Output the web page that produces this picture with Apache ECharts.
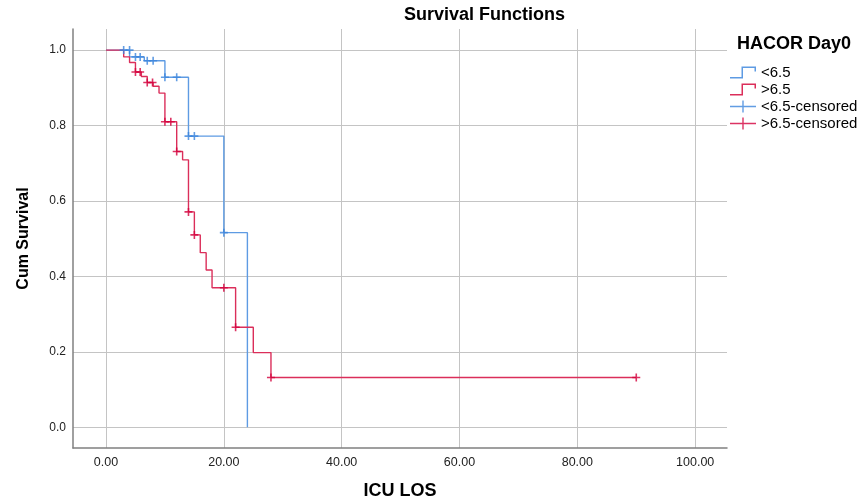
<!DOCTYPE html>
<html>
<head>
<meta charset="utf-8">
<script src="https://cdn.jsdelivr.net/npm/echarts@6/dist/echarts.min.js"></script>
<style>
html,body{margin:0;padding:0;background:#fff;}
#c{width:858px;height:503px;}
</style>
</head>
<body>
<div id="c"></div>
<script>
// ---- data ----
const xTicks = [0, 20, 40, 60, 80, 100];
const yTicks = [0, 0.2, 0.4, 0.6, 0.8, 1.0];

// group <6.5 (Kaplan-Meier steps)
const lowTimes = [0, 4, 6.5, 10, 14, 20, 24];
const lowSurv  = [1.0, 0.982, 0.972, 0.928, 0.772, 0.516, 0];
const lowCensTimes = [3, 4, 5, 5.8, 7, 8, 10, 12, 14, 15, 20];
const lowCensSurv  = [1.0, 1.0, 0.982, 0.982, 0.972, 0.972, 0.928, 0.928, 0.772, 0.772, 0.516];

// group >6.5
const highTimes = [0, 3, 4, 5, 6, 7, 8, 9, 10, 12, 13, 14, 15, 16, 17, 18, 22, 25, 28, 90];
const highSurv  = [1.0, 0.982, 0.967, 0.942, 0.930, 0.914, 0.904, 0.886, 0.810, 0.731, 0.709, 0.571, 0.510, 0.463, 0.417, 0.370, 0.265, 0.198, 0.132, 0.132];
const highCensTimes = [5, 5.8, 7, 7.9, 10, 11, 12, 14, 15, 20, 22, 28, 90];
const highCensSurv  = [0.942, 0.942, 0.914, 0.914, 0.810, 0.810, 0.731, 0.571, 0.510, 0.370, 0.265, 0.132, 0.132];

const seriesNames = ['<6.5', '>6.5', '<6.5-censored', '>6.5-censored'];

// ---- styling ----
const blueLine = '#5e9be3';
const redLine = '#db2e5a';
const blueMark = '#3b84dc';
const redMark = '#d3003c';
const stepIcon = 'path://M0,10.5H11.5V0H26V5H24.5V1.5H13V12H0Z';
const crossIcon = 'path://M0,5.3H12.3V0H13.7V5.3H26V6.7H13.7V12H12.3V6.7H0Z';
const plusSymbol = 'path://M3.2,0H4.8V3.2H8V4.8H4.8V8H3.2V4.8H0V3.2H3.2Z';
const sans = 'Liberation Sans, Arial, sans-serif';

const zip = (a, b) => a.map((v, i) => [v, b[i]]);

const chart = echarts.init(document.getElementById('c'), null, {renderer: 'canvas'});
chart.setOption({
  animation: false,
  backgroundColor: '#ffffff',
  title: [
    {text: 'Survival Functions', left: 399, top: 1,
     textStyle: {fontFamily: sans, fontSize: 18, fontWeight: 'bold', color: '#000'}},
    {text: 'HACOR Day0', left: 732, top: 30,
     textStyle: {fontFamily: sans, fontSize: 18, fontWeight: 'bold', color: '#000'}}
  ],
  legend: {
    orient: 'vertical', left: 725, top: 60,
    itemWidth: 26, itemHeight: 12, itemGap: 2,
    selectedMode: false,
    textStyle: {fontFamily: sans, fontSize: 15, color: '#000'},
    itemStyle: {borderWidth: 0},
    data: [
      {name: seriesNames[0], icon: stepIcon},
      {name: seriesNames[1], icon: stepIcon},
      {name: seriesNames[2], icon: crossIcon},
      {name: seriesNames[3], icon: crossIcon}
    ]
  },
  grid: {left: 73, right: 131, top: 29, bottom: 55, containLabel: false, outerBoundsMode: 'none'},
  xAxis: {
    type: 'value', min: -5.6, max: 105.4,
    name: 'ICU LOS', nameLocation: 'middle', nameGap: 34,
    nameTextStyle: {fontFamily: sans, fontSize: 18, fontWeight: 'bold', color: '#000'},
    axisLine: {show: true, onZero: false, lineStyle: {color: '#808080', width: 1.5}},
    axisTick: {show: false, customValues: xTicks},
    axisLabel: {customValues: xTicks, margin: 8, formatter: v => v.toFixed(2),
      fontFamily: sans, fontSize: 12.5, color: '#222'},
    splitLine: {show: true, lineStyle: {color: '#c4c4c4', width: 1}}
  },
  yAxis: {
    type: 'value', min: -0.055, max: 1.056,
    name: 'Cum Survival', nameLocation: 'middle', nameGap: 41, nameRotate: 90,
    nameTextStyle: {fontFamily: sans, fontSize: 16, fontWeight: 'bold', color: '#000'},
    axisLine: {show: true, onZero: false, lineStyle: {color: '#808080', width: 1.5}},
    axisTick: {show: false, customValues: yTicks},
    axisLabel: {customValues: yTicks, margin: 7, formatter: v => v.toFixed(1),
      fontFamily: sans, fontSize: 12, color: '#222'},
    splitLine: {show: true, lineStyle: {color: '#c4c4c4', width: 1}}
  },
  series: [
    {name: seriesNames[0], type: 'line', step: 'end', showSymbol: false, symbol: 'none',
     color: blueLine, lineStyle: {color: blueLine, width: 1.4}, data: zip(lowTimes, lowSurv), z: 3},
    {name: seriesNames[1], type: 'line', step: 'end', showSymbol: false, symbol: 'none',
     color: redLine, lineStyle: {color: redLine, width: 1.4}, data: zip(highTimes, highSurv), z: 4},
    {name: seriesNames[2], type: 'scatter', symbol: plusSymbol, symbolSize: 8,
     itemStyle: {color: blueMark}, color: blueMark, data: zip(lowCensTimes, lowCensSurv), z: 5},
    {name: seriesNames[3], type: 'scatter', symbol: plusSymbol, symbolSize: 8,
     itemStyle: {color: redMark}, color: redMark, data: zip(highCensTimes, highCensSurv), z: 6}
  ]
});
</script>
</body>
</html>
